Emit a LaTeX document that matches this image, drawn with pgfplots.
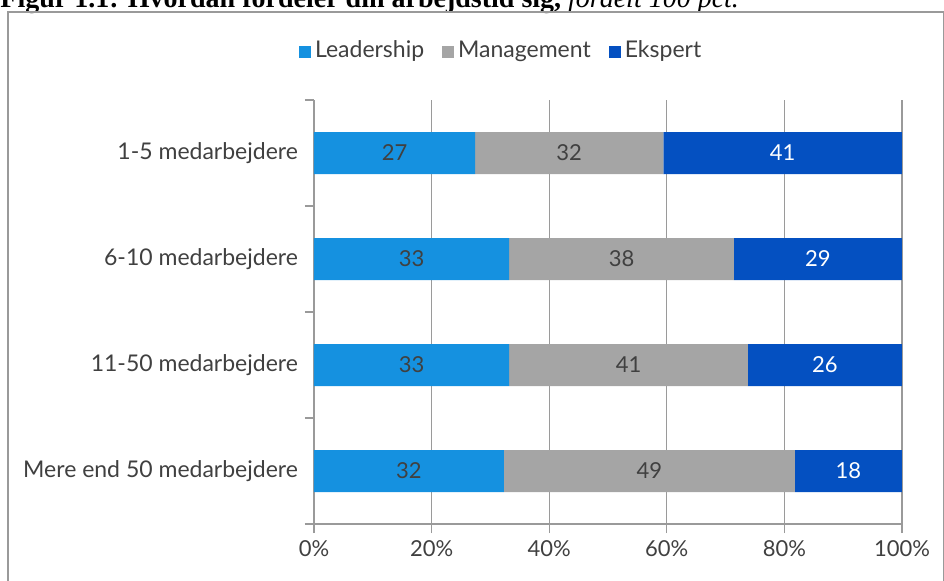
\documentclass[border=0pt]{standalone}
\usepackage{pgfplots}
\pgfplotsset{compat=1.18}
\usepackage{pgfplotstable}
\usepackage{fontspec}
\setmainfont{Lato}
\newfontfamily\titlefont{Liberation Serif}
\definecolor{lead}{HTML}{1591E0}
\definecolor{mgmt}{HTML}{A5A5A5}
\definecolor{eksp}{HTML}{0450C1}
\definecolor{txt}{HTML}{404040}
\definecolor{axgray}{HTML}{9A9A9A}
% y: 0 = Mere end 50, 3 = 1-5
\pgfplotstableread{
y lead mgmt eksp
0 32.3 49.5 18.2
1 33.2 40.6 26.2
2 33.2 38.2 28.6
3 27.4 32.0 40.6
}\bars
\pgfplotstableread{
x y lab
16.15 0 32
16.6 1 33
16.6 2 33
13.7 3 27
57.05 0 49
53.5 1 41
52.3 2 38
43.4 3 32
}\darklabels
\pgfplotstableread{
x y lab
90.9 0 18
86.9 1 26
85.7 2 29
79.7 3 41
}\whitelabels
\pgfplotsset{
  common/.style={at={(157pt,28pt)}, anchor=south west,
    scale only axis, width=294pt, height=212pt,
    xmin=0, xmax=100, ymin=-0.5, ymax=3.5},
}
\begin{document}
\begin{tikzpicture}
\useasboundingbox (0,0) rectangle (472pt,290pt);
\node[anchor=base west, inner sep=0pt, font=\titlefont\fontsize{14}{16}\selectfont] at (0pt,286.5pt)
  {\textbf{Figur 1.1: Hvordan fordeler din arbejdstid sig,} \textit{fordelt 100 pct.}};
\draw[axgray, line width=0.6pt] (4pt,-5pt) -- (4pt,284pt) -- (471.6pt,284pt) -- (471.6pt,-5pt);
\begin{axis}[
  common,
  xbar stacked, bar width=21pt,
  axis lines=left, axis line style={-, axgray, line width=0.7pt},
  xtick={0,20,...,100},
  /pgf/number format/assume math mode=true,
  xticklabel={\pgfmathprintnumber{\tick}\%},
  xticklabel style={font=\fontsize{11}{13}\selectfont, color=txt},
  xmajorgrids, grid style={axgray, line width=0.6pt},
  ytick={0,1,2,3},
  yticklabels={Mere end 50 medarbejdere, 11-50 medarbejdere, 6-10 medarbejdere, 1-5 medarbejdere},
  yticklabel style={font=\fontsize{11.5}{13}\selectfont, color=txt},
  major y tick style={draw=none},
  minor ytick={-0.5,0.5,1.5,2.5,3.5},
  minor tick length=4.5pt, major tick length=4.5pt,
  tick align=outside,
  tick style={axgray, line width=0.6pt},
  minor y tick style={axgray, line width=0.6pt},
  x axis line style={shorten <=-4.5pt},
  legend style={at={(0.32,1.113)}, anchor=center, draw=none, fill=none,
    legend columns=3, font=\fontsize{11.5}{13}\selectfont, text=txt,
    nodes={text height=1.6ex, text depth=0.45ex},
    /tikz/every even column/.append style={column sep=7pt}},
  legend image code/.code={\fill[#1] (0pt,-3pt) rectangle (6pt,3.2pt);},
]
\addplot[fill=lead, draw=none] table[x=lead, y=y] {\bars};
\addplot[fill=mgmt, draw=none] table[x=mgmt, y=y] {\bars};
\addplot[fill=eksp, draw=none] table[x=eksp, y=y] {\bars};
\legend{Leadership, Management, Ekspert}
\end{axis}
\begin{axis}[
  common, hide axis,
]
\addplot[draw=none, mark=none, nodes near coords, point meta=explicit symbolic,
  every node near coord/.style={anchor=center, color=txt, font=\fontsize{11}{13}\selectfont}]
  table[x=x, y=y, meta=lab] {\darklabels};
\addplot[draw=none, mark=none, nodes near coords, point meta=explicit symbolic,
  every node near coord/.style={anchor=center, color=white, font=\fontsize{11}{13}\selectfont}]
  table[x=x, y=y, meta=lab] {\whitelabels};
\end{axis}
\end{tikzpicture}
\end{document}
